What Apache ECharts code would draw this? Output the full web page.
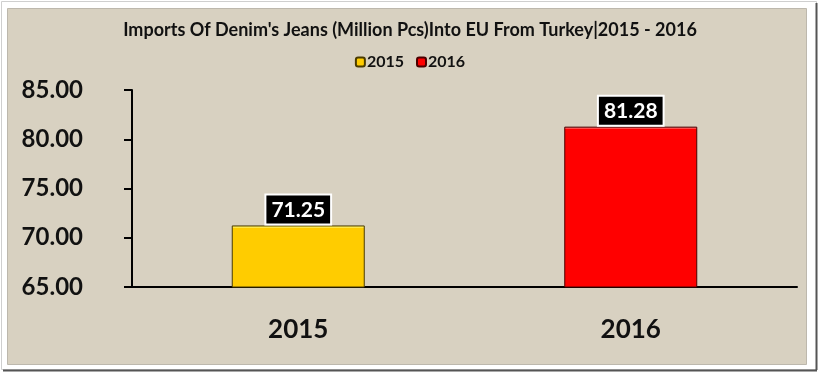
<!DOCTYPE html>
<html>
<head>
<meta charset="utf-8">
<script src="https://cdn.jsdelivr.net/npm/echarts@6/dist/echarts.min.js"></script>
<style>html,body{margin:0;padding:0;background:#fff;}#c{width:820px;height:373px;}</style>
</head>
<body>
<div id="c"></div>
<script>
const titleText = "Imports Of Denim's Jeans (Million Pcs)Into EU From Turkey|2015 - 2016";
const categories = ['2015', '2016'];
const seriesNames = ['2015', '2016'];
const values2015 = [71.25, '-'];
const values2016 = ['-', 81.28];
const yTicks = [65, 70, 75, 80, 85];

const FONT = 'Lato';
const chart = echarts.init(document.getElementById('c'));

function barStyle(main, light, border, edge) {
  return {
    color: new echarts.graphic.LinearGradient(0, 0, 0, 1, [
      { offset: 0, color: light },
      { offset: edge, color: light },
      { offset: edge + 0.001, color: main },
      { offset: 1, color: main }
    ]),
    borderColor: border,
    borderWidth: 1
  };
}

const labelStyle = {
  show: true,
  position: 'top',
  distance: 2,
  color: '#fff',
  fontFamily: FONT,
  fontWeight: 'bold',
  fontSize: 21,
  backgroundColor: '#000',
  borderColor: '#fff',
  borderWidth: 2,
  padding: [4, 5, 3, 5],
  formatter: p => p.value.toFixed(2)
};

chart.setOption({
  animation: false,
  backgroundColor: '#fff',
  graphic: [
    { type: 'rect', z: -10, shape: { x: 1.5, y: 1.5, width: 815, height: 368 }, style: { fill: '#fff', stroke: '#cfcfcf', lineWidth: 1 } },
    { type: 'line', z: -10, shape: { x1: 816.5, y1: 3, x2: 816.5, y2: 370 }, style: { stroke: '#555', lineWidth: 2 } },
    { type: 'line', z: -10, shape: { x1: 3, y1: 370.5, x2: 817, y2: 370.5 }, style: { stroke: '#555', lineWidth: 2 } },
    { type: 'rect', z: -9, shape: { x: 7.5, y: 8.5, width: 799, height: 356 }, style: { fill: '#d8d1c1', stroke: '#bdb8ad', lineWidth: 1 } }
  ],
  title: {
    text: titleText,
    left: 'center',
    top: 16,
    textStyle: { fontFamily: FONT, fontWeight: 'bold', fontSize: 18, color: '#111' }
  },
  legend: {
    data: seriesNames,
    top: 49,
    left: 'center',
    itemWidth: 9,
    itemHeight: 9,
    itemGap: 12,
    textStyle: { fontFamily: FONT, fontWeight: 'bold', fontSize: 16, color: '#111', padding: [0, 0, 0, -3] }
  },
  grid: { left: 132, right: 23, top: 90, bottom: 86, containLabel: false, outerBoundsMode: 'none' },
  xAxis: {
    type: 'category',
    data: categories,
    axisLine: { lineStyle: { color: '#000', width: 2 } },
    axisTick: { show: false },
    axisLabel: { margin: 30, fontFamily: FONT, fontWeight: 'bold', fontSize: 26, color: '#111' }
  },
  yAxis: {
    type: 'value',
    min: 65,
    max: 85,
    interval: 5,
    axisLine: { show: true, lineStyle: { color: '#000', width: 2 } },
    axisTick: { show: true, length: 8, lineStyle: { color: '#000', width: 2 } },
    splitLine: { show: false },
    axisLabel: {
      margin: 49,
      fontFamily: FONT,
      fontWeight: 'bold',
      fontSize: 24,
      color: '#111',
      formatter: v => yTicks.includes(v) ? v.toFixed(2) : ''
    }
  },
  series: [
    {
      name: seriesNames[0],
      type: 'bar',
      stack: 'total',
      barWidth: '40%',
      data: values2015,
      itemStyle: barStyle('#ffcc00', '#ffe84a', '#4a3b00', 0.04),
      label: labelStyle
    },
    {
      name: seriesNames[1],
      type: 'bar',
      stack: 'total',
      barWidth: '40%',
      data: values2016,
      itemStyle: barStyle('#ff0000', '#ff4a4a', '#4a0000', 0.015),
      label: labelStyle
    }
  ]
});
</script>
</body>
</html>
